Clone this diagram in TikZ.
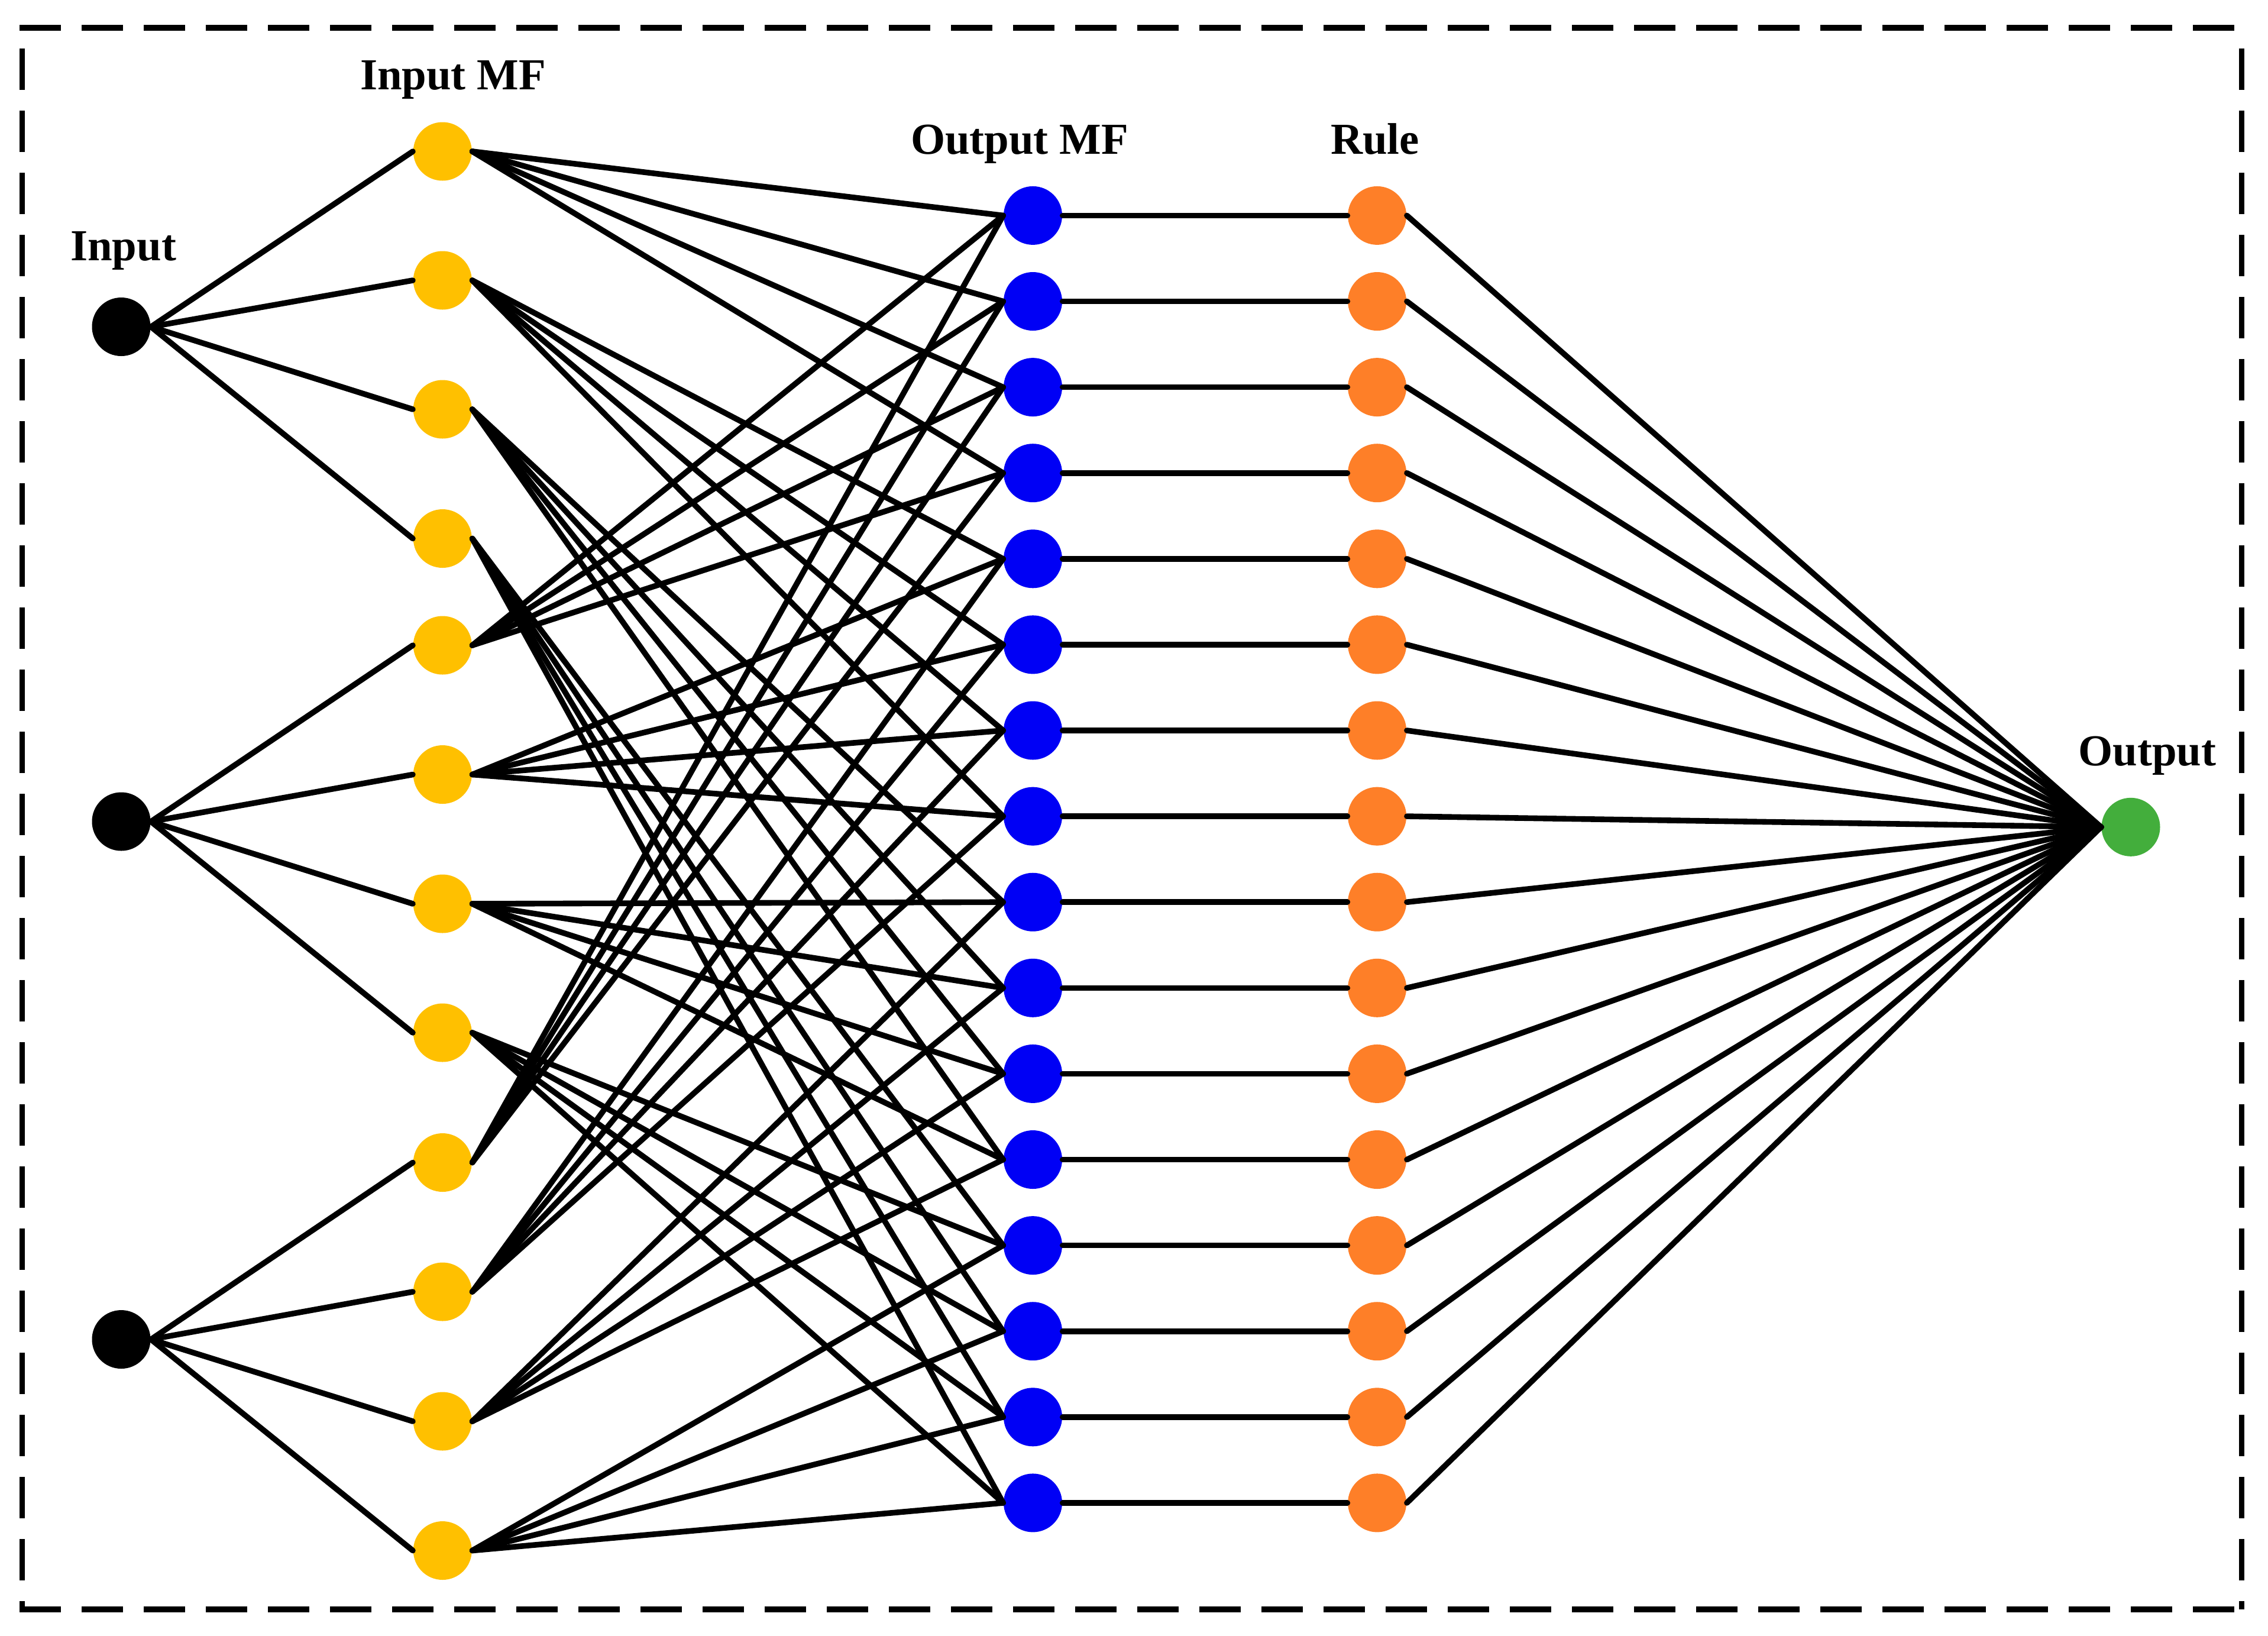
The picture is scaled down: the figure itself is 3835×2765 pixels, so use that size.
\documentclass[tikz,border=0pt]{standalone}
\usepackage{fontspec}
\setmainfont{Liberation Serif}
\definecolor{mfyellow}{RGB}{255,192,0}
\definecolor{mfblue}{RGB}{0,0,245}
\definecolor{ruleorange}{RGB}{254,127,40}
\definecolor{outgreen}{RGB}{67,174,60}
\begin{document}
\begin{tikzpicture}[x=0.25pt,y=-0.25pt,
  conn/.style={line width=2.4pt, line cap=round},
  frame/.style={line width=2.4pt, dash pattern=on 17.5pt off 8.75pt},
  dot/.style={circle, minimum size=24.75pt, inner sep=0pt, draw=none},
  lab/.style={font=\fontsize{18.7}{22}\selectfont\bfseries, anchor=base, inner sep=0pt}]
\useasboundingbox (0,0) rectangle (3835,2765);
% dashed frame
\coordinate (ftl) at (33,47);
\coordinate (ftr) at (3795,47);
\coordinate (fbl) at (33,2721);
\coordinate (fbr) at (3795,2721);
\coordinate (fl1) at (37.5,47);
\coordinate (fl2) at (37.5,2721);
\coordinate (fr1) at (3790.5,47);
\coordinate (fr2) at (3790.5,2721);
\draw[frame] (ftl) -- (ftr);
\draw[frame] (fbl) -- (fbr);
\draw[frame, dash phase=17.5pt] (fl1) -- (fl2);
\draw[frame, dash phase=17.5pt] (fr1) -- (fr2);
% input nodes
\foreach \i/\y in {1/552.5,2/1389,3/2264.5}
  \node[dot,fill=black] (in\i) at (205,\y) {};
% input membership functions
\foreach \i/\y in {1/256,2/474,3/692,4/910.5,5/1091,6/1309.5,7/1528,8/1746,9/1965.5,10/2184,11/2403,12/2621.5}
  \node[dot,fill=mfyellow] (mf\i) at (748.3,\y) {};
% output MF and rule nodes
\foreach \i in {1,...,16}{
  \node[dot,fill=mfblue] (om\i) at (1746.5,{364.4+145.1*(\i-1)}) {};
  \node[dot,fill=ruleorange] (ru\i) at (2328.6,{364.4+145.1*(\i-1)}) {};
}
\node[dot,fill=outgreen] (out) at (3603,1398.3) {};
% input -> input MF
\foreach \g in {1,2,3}
  \foreach \j in {1,...,4}{
    \pgfmathtruncatemacro{\k}{4*(\g-1)+\j}
    \draw[conn] (in\g.east) -- (mf\k.west);
  }
% input MF -> output MF
\foreach \k in {1,...,12}
  \foreach \m in {1,...,4}{
    \pgfmathtruncatemacro{\t}{4*mod(\k-1,4)+\m}
    \draw[conn] (mf\k.east) -- (om\t.west);
  }
% output MF -> rule -> output
\foreach \i in {1,...,16}{
  \draw[conn] (om\i.east) -- (ru\i.west);
  \draw[conn] (ru\i.east) -- (out.west);
}
% labels
\node[lab] (tin) at (208.7,440) {Input};
\node[lab] (tmf) at (766,151) {Input MF};
\node[lab] (tom) at (1724,260) {Output MF};
\node[lab] (tru) at (2325,260) {Rule};
\node[lab] (tout) at (3631,1294) {Output};
\end{tikzpicture}
\end{document}
